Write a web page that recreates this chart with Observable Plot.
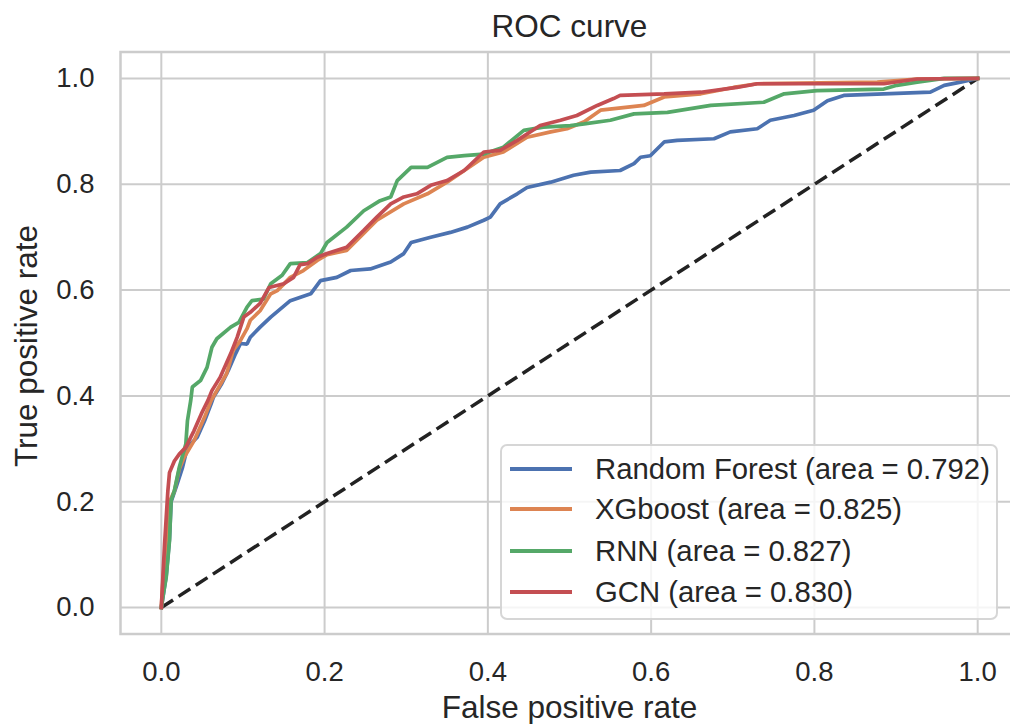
<!DOCTYPE html>
<html>
<head>
<meta charset="utf-8">
<script src="https://cdn.jsdelivr.net/npm/d3@7"></script>
<script src="https://cdn.jsdelivr.net/npm/@observablehq/plot@0.6"></script>
<style>
  html, body { margin: 0; padding: 0; background: #fff; overflow: hidden; }
  #wrap { position: relative; width: 1010px; height: 724px; font-family: "Liberation Sans", Arial, sans-serif; color: #262626; }
  #wrap svg { overflow: hidden !important; }
  #legend { position: absolute; left: 500px; top: 444px; width: 494px; height: 172px;
            border: 2px solid rgba(204,204,204,0.8); border-radius: 7px; background: rgba(255,255,255,0.8);
            box-sizing: content-box; }
  .row { position: absolute; left: 0; height: 40px; width: 100%; }
  .sw { position: absolute; left: 8px; width: 62px; height: 4px; top: -2px; }
  .lab { position: absolute; left: 93px; top: -18px; font-size: 29.3px; line-height: 36px; white-space: nowrap; color: #262626; }
</style>
</head>
<body>
<div id="wrap"></div>
<script>
// ---- data ----
const seriesNames = ["Random Forest", "XGboost", "RNN", "GCN"];
const seriesAreas = ["0.792", "0.825", "0.827", "0.830"];
const seriesColors = ["#4c72b0", "#dd8452", "#55a868", "#c44e52"];
const xTicks = [0, 0.2, 0.4, 0.6, 0.8, 1.0];
const yTicks = [0, 0.2, 0.4, 0.6, 0.8, 1.0];
const chanceX = [0, 1];
const chanceY = [0, 1];

const rfX = [0,0.003,0.006,0.010,0.012,0.018,0.026,0.032,0.044,0.053,0.061,0.064,0.074,0.082,0.091,0.097,0.105,0.109,0.121,0.134,0.158,0.183,0.195,0.215,0.232,0.256,0.281,0.297,0.306,0.330,0.354,0.375,0.395,0.403,0.415,0.436,0.448,0.477,0.505,0.526,0.562,0.579,0.587,0.599,0.616,0.632,0.677,0.697,0.730,0.746,0.775,0.799,0.816,0.836,0.885,0.942,0.959,0.979,1];
const rfY = [0,0.03,0.06,0.13,0.20,0.227,0.265,0.303,0.322,0.353,0.385,0.398,0.423,0.448,0.480,0.499,0.498,0.511,0.530,0.549,0.580,0.593,0.618,0.624,0.637,0.640,0.653,0.669,0.690,0.700,0.709,0.719,0.732,0.738,0.763,0.782,0.794,0.804,0.817,0.823,0.826,0.839,0.851,0.854,0.880,0.883,0.886,0.899,0.905,0.921,0.930,0.940,0.958,0.968,0.971,0.974,0.987,0.993,1];

const xgbX = [0,0.002,0.005,0.010,0.016,0.022,0.028,0.040,0.053,0.061,0.068,0.080,0.088,0.097,0.105,0.109,0.121,0.134,0.142,0.158,0.174,0.191,0.203,0.227,0.264,0.297,0.326,0.350,0.395,0.419,0.448,0.477,0.497,0.518,0.538,0.591,0.616,0.661,0.701,0.730,0.877,0.926,1];
const xgbY = [0,0.05,0.11,0.20,0.22,0.262,0.284,0.315,0.360,0.391,0.410,0.442,0.486,0.505,0.527,0.543,0.561,0.593,0.599,0.624,0.637,0.656,0.667,0.675,0.732,0.763,0.782,0.804,0.851,0.861,0.889,0.899,0.905,0.918,0.940,0.949,0.965,0.971,0.983,0.990,0.993,0.999,1];

const rnnX = [0,0.003,0.006,0.010,0.012,0.016,0.022,0.030,0.032,0.036,0.038,0.048,0.056,0.062,0.068,0.085,0.095,0.105,0.111,0.125,0.134,0.148,0.158,0.179,0.195,0.203,0.227,0.248,0.268,0.281,0.289,0.306,0.326,0.350,0.371,0.395,0.419,0.444,0.468,0.501,0.518,0.550,0.579,0.620,0.673,0.738,0.763,0.803,0.885,0.901,0.926,0.959,1];
const rnnY = [0,0.03,0.057,0.126,0.202,0.221,0.265,0.309,0.353,0.391,0.417,0.429,0.454,0.492,0.508,0.530,0.539,0.568,0.580,0.583,0.612,0.628,0.650,0.652,0.669,0.690,0.719,0.750,0.769,0.776,0.807,0.832,0.832,0.851,0.854,0.857,0.870,0.902,0.908,0.911,0.914,0.921,0.933,0.936,0.949,0.955,0.971,0.977,0.980,0.987,0.993,1.0,1];

const gcnX = [0,0.002,0.004,0.008,0.010,0.016,0.022,0.030,0.040,0.049,0.057,0.062,0.072,0.085,0.093,0.101,0.109,0.121,0.132,0.150,0.162,0.170,0.179,0.191,0.203,0.227,0.248,0.264,0.281,0.297,0.313,0.330,0.350,0.371,0.395,0.415,0.436,0.464,0.489,0.509,0.534,0.554,0.562,0.616,0.661,0.705,0.730,0.885,0.926,1];
const gcnY = [0,0.06,0.12,0.22,0.255,0.277,0.290,0.303,0.334,0.366,0.391,0.410,0.435,0.480,0.511,0.549,0.558,0.575,0.605,0.612,0.624,0.648,0.650,0.662,0.669,0.681,0.713,0.738,0.763,0.776,0.782,0.798,0.807,0.826,0.861,0.864,0.883,0.911,0.921,0.930,0.949,0.962,0.968,0.971,0.974,0.983,0.990,0.990,0.999,1];

// ---- build tables ----
const allX = [rfX, xgbX, rnnX, gcnX];
const allY = [rfY, xgbY, rnnY, gcnY];
const rows = [];
seriesNames.forEach((name, i) => {
  allX[i].forEach((x, j) => rows.push({model: name, fpr: x, tpr: allY[i][j]}));
});
const chance = chanceX.map((x, i) => ({fpr: x, tpr: chanceY[i]}));

const fmt = d3.format(".1f");
const txt = "#262626";
const grid = "#cccccc";

const chart = Plot.plot({
  width: 1010,
  height: 724,
  marginLeft: 120,
  marginRight: -8,
  marginTop: 51.5,
  marginBottom: 90.5,
  style: {fontFamily: '"Liberation Sans", Arial, sans-serif', fontSize: "27.5px", color: txt, background: "#fff"},
  x: {domain: [-0.05, 1.05]},
  y: {domain: [-0.05, 1.05]},
  color: {domain: seriesNames, range: seriesColors},
  marks: [
    Plot.gridX(xTicks, {stroke: grid, strokeOpacity: 1, strokeWidth: 2}),
    Plot.gridY(yTicks, {stroke: grid, strokeOpacity: 1, strokeWidth: 2}),
    Plot.frame({stroke: grid, strokeOpacity: 1, strokeWidth: 2.5}),
    Plot.axisX(xTicks, {tickSize: 0, tickPadding: 27, tickFormat: fmt, fontSize: 27.5, fill: txt, label: null}),
    Plot.axisY(yTicks, {tickSize: 0, tickPadding: 26, tickFormat: fmt, fontSize: 27.5, fill: txt, label: null}),
    Plot.line(chance, {x: "fpr", y: "tpr", stroke: "#222", strokeWidth: 3.5, strokeDasharray: "14,6.5", strokeLinecap: "butt"}),
    Plot.line(rows, {x: "fpr", y: "tpr", z: "model", stroke: "model", strokeWidth: 3.7, strokeLinejoin: "miter", strokeLinecap: "square"}),
    Plot.text(["ROC curve"], {frameAnchor: "top", lineAnchor: "top", dy: -37, fontSize: 31.5, fill: txt}),
    Plot.text(["False positive rate"], {frameAnchor: "bottom", lineAnchor: "top", dy: 62, fontSize: 31.5, fill: txt}),
    Plot.text(["True positive rate"], {frameAnchor: "left", textAnchor: "middle", lineAnchor: "top", rotate: -90, dx: -106, dy: 3, fontSize: 31.5, fill: txt})
  ]
});

const wrap = document.getElementById("wrap");
wrap.appendChild(chart);

// legend (HTML overlay, matplotlib style lower-right box)
const legend = document.createElement("div");
legend.id = "legend";
const rowTops = [22.5, 63, 105, 146];
seriesNames.forEach((name, i) => {
  const r = document.createElement("div");
  r.className = "row";
  r.style.top = rowTops[i] + "px";
  const sw = document.createElement("div");
  sw.className = "sw";
  sw.style.background = seriesColors[i];
  const lab = document.createElement("div");
  lab.className = "lab";
  lab.textContent = `${name} (area = ${seriesAreas[i]})`;
  r.appendChild(sw);
  r.appendChild(lab);
  legend.appendChild(r);
});
wrap.appendChild(legend);
</script>
</body>
</html>
